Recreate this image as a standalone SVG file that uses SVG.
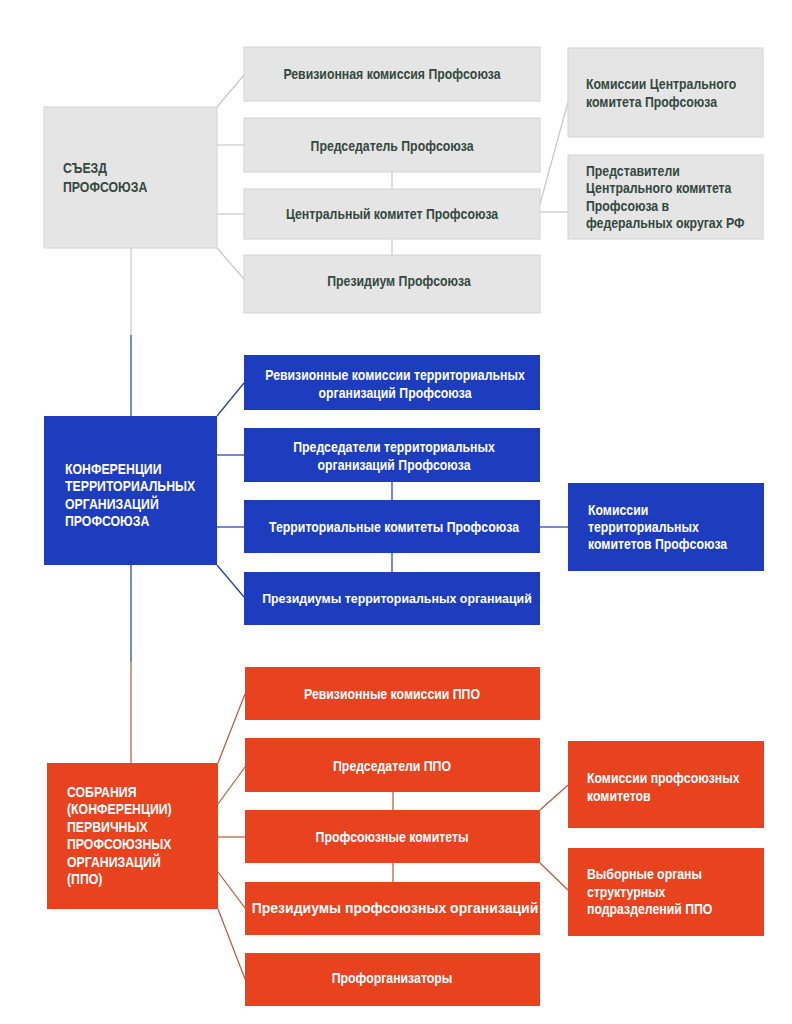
<svg xmlns="http://www.w3.org/2000/svg" width="792" height="1024" viewBox="0 0 792 1024">
<style>
text{font-family:"Liberation Sans","Arial",sans-serif;font-weight:bold;font-size:15px;transform-box:fill-box;transform-origin:0% 50%;transform:scaleX(0.82)}
.g rect{fill:#e5e5e5;stroke:#d2d2d2;stroke-width:1}
.g text{fill:#34483f}
.b rect{fill:#1e3dbe}
.r rect{fill:#e8421f}
.b text,.r text{fill:#ffffff}
text.c{text-anchor:middle;transform-origin:50% 50%}
text.w{transform:none;font-size:12.4px}
text.w2{transform:none;font-size:14px}
#conn line{stroke-width:1.2;fill:none}
.lg{stroke:#c6c6c6}
.lb{stroke:#1f3aa0}
.lr{stroke:#b2583c}
</style>
<rect width="792" height="1024" fill="#ffffff"/>
<g id="conn">
<line class="lg" x1="131" y1="248" x2="131" y2="335"/>
<line class="lg" x1="217" y1="107" x2="244" y2="75"/>
<line class="lg" x1="217" y1="145" x2="244" y2="145"/>
<line class="lg" x1="217" y1="214" x2="244" y2="214"/>
<line class="lg" x1="217" y1="248" x2="244" y2="279"/>
<line class="lg" x1="392" y1="172" x2="392" y2="189"/>
<line class="lg" x1="392" y1="239" x2="392" y2="255"/>
<line class="lg" x1="540" y1="204" x2="568" y2="102"/>
<line class="lg" x1="540" y1="212" x2="568" y2="212"/>
<line class="lb" x1="131" y1="335" x2="131" y2="416"/>
<line class="lb" x1="131" y1="565" x2="131" y2="662"/>
<line class="lb" x1="217" y1="416" x2="244" y2="383"/>
<line class="lb" x1="217" y1="455" x2="244" y2="455"/>
<line class="lb" x1="217" y1="527" x2="244" y2="527"/>
<line class="lb" x1="217" y1="565" x2="244" y2="597"/>
<line class="lb" x1="392" y1="482" x2="392" y2="500"/>
<line class="lb" x1="392" y1="553" x2="392" y2="572"/>
<line class="lb" x1="540" y1="527" x2="568" y2="527"/>
<line class="lr" x1="131" y1="662" x2="131" y2="763"/>
<line class="lr" x1="218" y1="763" x2="245" y2="694"/>
<line class="lr" x1="218" y1="804" x2="245" y2="767"/>
<line class="lr" x1="218" y1="837" x2="245" y2="837"/>
<line class="lr" x1="218" y1="872" x2="245" y2="908"/>
<line class="lr" x1="218" y1="909" x2="245" y2="979"/>
<line class="lr" x1="393" y1="792" x2="393" y2="810"/>
<line class="lr" x1="393" y1="863" x2="393" y2="882"/>
<line class="lr" x1="540" y1="810" x2="568" y2="785"/>
<line class="lr" x1="540" y1="863" x2="568" y2="890"/>
</g>

<g id="s-congress" class="g"><rect x="44" y="107" width="173" height="141"/><text x="63" y="173">СЪЕЗД</text><text x="63" y="192">ПРОФСОЮЗА</text></g>
<g id="s-rev" class="g"><rect x="244" y="47" width="296" height="54"/><text class="c" x="392" y="79">Ревизионная комиссия Профсоюза</text></g>
<g id="s-chair" class="g"><rect x="244" y="118" width="296" height="54"/><text class="c" x="392" y="151">Председатель Профсоюза</text></g>
<g id="s-cc" class="g"><rect x="244" y="189" width="296" height="50"/><text class="c" x="392" y="219">Центральный комитет Профсоюза</text></g>
<g id="s-pres" class="g"><rect x="244" y="255" width="296" height="58"/><text class="c" x="399" y="286">Президиум Профсоюза</text></g>
<g id="s-comm" class="g"><rect x="568" y="48" width="195" height="89"/><text x="586" y="89">Комиссии Центрального</text><text x="586" y="107">комитета Профсоюза</text></g>
<g id="s-reps" class="g"><rect x="568" y="155" width="195" height="84"/><text x="586" y="176">Представители</text><text x="586" y="193.5">Центрального комитета</text><text x="586" y="211">Профсоюза в</text><text x="586" y="228.5">федеральных округах РФ</text></g>

<g id="t-conf" class="b"><rect x="44" y="416" width="173" height="149"/><text x="65" y="474">КОНФЕРЕНЦИИ</text><text x="65" y="491.5">ТЕРРИТОРИАЛЬНЫХ</text><text x="65" y="509">ОРГАНИЗАЦИЙ</text><text x="65" y="526.5">ПРОФСОЮЗА</text></g>
<g id="t-rev" class="b"><rect x="244" y="355" width="296" height="55"/><text class="c" x="395" y="380">Ревизионные комиссии территориальных</text><text class="c" x="395" y="398">организаций Профсоюза</text></g>
<g id="t-chair" class="b"><rect x="244" y="428" width="296" height="54"/><text class="c" x="394" y="452">Председатели территориальных</text><text class="c" x="394" y="470">организаций Профсоюза</text></g>
<g id="t-comm" class="b"><rect x="244" y="500" width="296" height="53"/><text class="c" x="394" y="532">Территориальные комитеты Профсоюза</text></g>
<g id="t-pres" class="b"><rect x="244" y="572" width="296" height="53"/><text class="c w" x="397" y="603">Президиумы территориальных органиаций</text></g>
<g id="t-commis" class="b"><rect x="568" y="483" width="196" height="88"/><text x="588" y="515">Комиссии</text><text x="588" y="532">территориальных</text><text x="588" y="549">комитетов Профсоюза</text></g>

<g id="p-meet" class="r"><rect x="47" y="763" width="171" height="146"/><text x="67" y="797">СОБРАНИЯ</text><text x="67" y="814.5">(КОНФЕРЕНЦИИ)</text><text x="67" y="832">ПЕРВИЧНЫХ</text><text x="67" y="849.5">ПРОФСОЮЗНЫХ</text><text x="67" y="867">ОРГАНИЗАЦИЙ</text><text x="67" y="884.5">(ППО)</text></g>
<g id="p-rev" class="r"><rect x="245" y="667" width="295" height="53"/><text class="c" x="392" y="699">Ревизионные комиссии ППО</text></g>
<g id="p-chair" class="r"><rect x="245" y="738" width="295" height="54"/><text class="c" x="392" y="771">Председатели ППО</text></g>
<g id="p-comm" class="r"><rect x="245" y="810" width="295" height="53"/><text class="c" x="392" y="842">Профсоюзные комитеты</text></g>
<g id="p-pres" class="r"><rect x="245" y="882" width="295" height="53"/><text class="c w2" x="395" y="913">Президиумы профсоюзных организаций</text></g>
<g id="p-org" class="r"><rect x="245" y="953" width="295" height="53"/><text class="c" x="392" y="983">Профорганизаторы</text></g>
<g id="p-commis" class="r"><rect x="568" y="741" width="196" height="87"/><text x="587" y="783">Комиссии профсоюзных</text><text x="587" y="801">комитетов</text></g>
<g id="p-elect" class="r"><rect x="568" y="848" width="196" height="88"/><text x="587" y="879">Выборные органы</text><text x="587" y="897">структурных</text><text x="587" y="914">подразделений ППО</text></g>
</svg>
